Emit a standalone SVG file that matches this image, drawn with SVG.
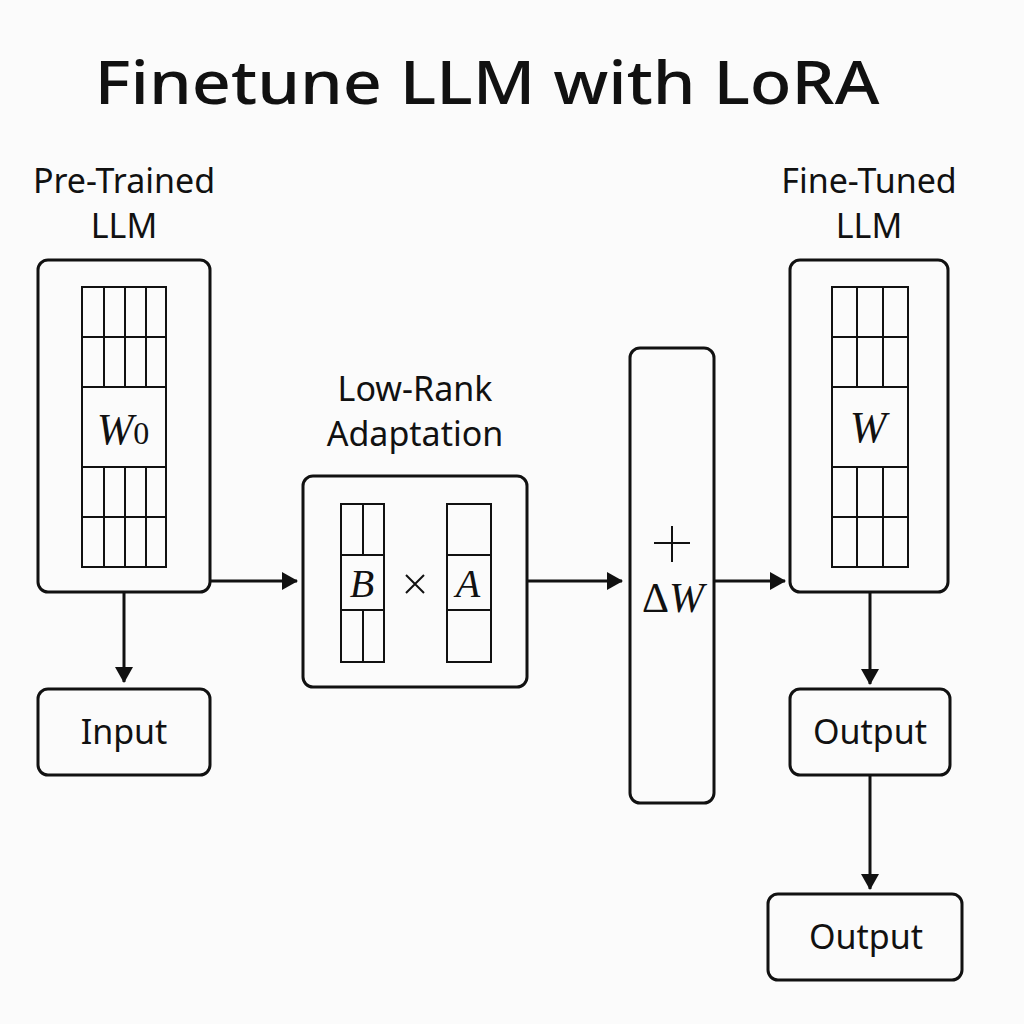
<svg xmlns="http://www.w3.org/2000/svg" width="1024" height="1024" viewBox="0 0 1024 1024">
<style>
.box{fill:none;stroke:#111;stroke-width:3}
.g{fill:none;stroke:#111;stroke-width:2}
.t{font-family:"Noto Sans","DejaVu Sans",sans-serif;fill:#111;text-anchor:middle}
.m{font-family:"Liberation Serif",serif;font-style:italic;fill:#111;text-anchor:middle}
.c{stroke:#111;stroke-width:3;fill:none;marker-end:url(#ah)}
</style>
<defs><marker id="ah" markerWidth="16" markerHeight="18" refX="15" refY="9" orient="auto" markerUnits="userSpaceOnUse"><path d="M0,0 L16,9 L0,18 Z" fill="#111"/></marker></defs>
<rect width="1024" height="1024" fill="#fbfbfb"/>
<text class="t" x="487" y="104" font-size="59" font-weight="500" textLength="785" lengthAdjust="spacingAndGlyphs">Finetune LLM with LoRA</text>
<g id="pretrained">
<text class="t" x="124" y="193" font-size="34">Pre-Trained</text>
<text class="t" x="124" y="238" font-size="34">LLM</text>
<rect class="box" x="38" y="260" width="172" height="332" rx="10"/>
<rect class="g" x="82" y="287" width="84" height="280"/>
<path class="g" d="M82 337H166M82 387H166M82 467H166M82 517H166M104 287V387M125 287V387M146 287V387M104 467V567M125 467V567M146 467V567"/>
<text class="m" x="123" y="444" font-size="44">W<tspan font-style="normal" font-size="32">0</tspan></text>
</g>
<g id="lora">
<text class="t" x="415" y="401" font-size="34">Low-Rank</text>
<text class="t" x="415" y="446" font-size="34">Adaptation</text>
<rect class="box" x="303" y="476" width="224" height="211" rx="10"/>
<rect class="g" x="341" y="504" width="43" height="158"/>
<path class="g" d="M341 555H384M341 610H384M363 504V555M363 610V662"/>
<text class="m" x="362" y="597" font-size="40">B</text>
<path d="M406 575L424 593M424 575L406 593" stroke="#111" stroke-width="2"/>
<rect class="g" x="447" y="504" width="44" height="158"/>
<path class="g" d="M447 555H491M447 610H491"/>
<text class="m" x="468" y="597" font-size="40">A</text>
</g>
<g id="deltaW">
<rect class="box" x="630" y="348" width="84" height="455" rx="10"/>
<path d="M672 526V562M654 543H690" stroke="#111" stroke-width="2"/>
<text class="m" x="673" y="612" font-size="42"><tspan font-style="normal">Δ</tspan>W</text>
</g>
<g id="finetuned">
<text class="t" x="869" y="193" font-size="34">Fine-Tuned</text>
<text class="t" x="869" y="238" font-size="34">LLM</text>
<rect class="box" x="790" y="260" width="158" height="332" rx="10"/>
<rect class="g" x="832" y="287" width="76" height="280"/>
<path class="g" d="M832 337H908M832 387H908M832 467H908M832 517H908M857 287V387M883 287V387M857 467V567M883 467V567"/>
<text class="m" x="868" y="442" font-size="44">W</text>
</g>
<g id="input">
<rect class="box" x="38" y="689" width="172" height="86" rx="10"/>
<text class="t" x="124" y="744" font-size="34">Input</text>
</g>
<g id="output1">
<rect class="box" x="790" y="689" width="160" height="86" rx="10"/>
<text class="t" x="870" y="744" font-size="34">Output</text>
</g>
<g id="output2">
<rect class="box" x="768" y="894" width="194" height="86" rx="10"/>
<text class="t" x="866" y="949" font-size="34">Output</text>
</g>
<g id="connectors">
<line class="c" x1="210" y1="581" x2="297" y2="581"/>
<line class="c" x1="527" y1="581" x2="622" y2="581"/>
<line class="c" x1="714" y1="581" x2="785" y2="581"/>
<line class="c" x1="124" y1="592" x2="124" y2="682"/>
<line class="c" x1="870" y1="592" x2="870" y2="684"/>
<line class="c" x1="870" y1="775" x2="870" y2="889"/>
</g>
</svg>
